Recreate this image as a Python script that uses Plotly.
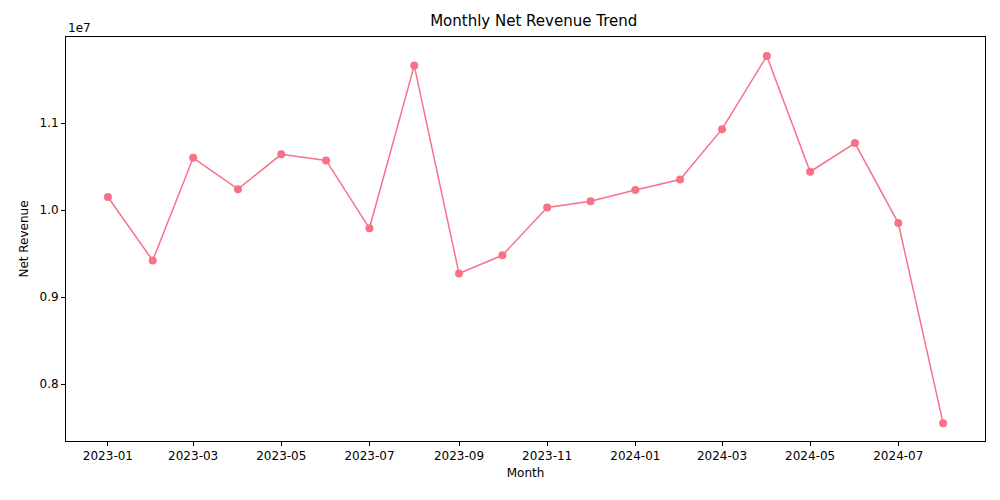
import plotly.graph_objects as go

months = ["2023-01-01", "2023-02-01", "2023-03-01", "2023-04-01", "2023-05-01",
          "2023-06-01", "2023-07-01", "2023-08-01", "2023-09-01", "2023-10-01",
          "2023-11-01", "2023-12-01", "2024-01-01", "2024-02-01", "2024-03-01",
          "2024-04-01", "2024-05-01", "2024-06-01", "2024-07-01", "2024-08-01"]
net_revenue = [10.15e6, 9.42e6, 10.60e6, 10.24e6, 10.64e6, 10.57e6, 9.79e6, 11.66e6,
               9.27e6, 9.48e6, 10.03e6, 10.10e6, 10.23e6, 10.35e6, 10.93e6, 11.77e6,
               10.44e6, 10.77e6, 9.85e6, 7.55e6]
x_ticks = ["2023-01-01", "2023-03-01", "2023-05-01", "2023-07-01", "2023-09-01",
           "2023-11-01", "2024-01-01", "2024-03-01", "2024-05-01", "2024-07-01"]
x_labels = [t[:7] for t in x_ticks]
y_ticks = [0.8e7, 0.9e7, 1.0e7, 1.1e7]
y_labels = ["0.8", "0.9", "1.0", "1.1"]

color = "#f77189"
fig = go.Figure(go.Scatter(x=months, y=net_revenue, mode="lines+markers",
                           line=dict(color=color, width=1.5),
                           marker=dict(color=color, size=8)))

axis_common = dict(showline=True, mirror=True, linecolor="black", linewidth=1,
                   ticks="outside", ticklen=4, tickcolor="black", showgrid=False,
                   zeroline=False, tickfont=dict(size=12, color="black"))
fig.update_xaxes(range=["2022-12-03", "2024-08-30"], tickvals=x_ticks, ticktext=x_labels,
                 title=dict(text="Month", font=dict(size=12, color="black"), standoff=6),
                 **axis_common)
fig.update_yaxes(range=[0.7345e7, 1.1989e7], tickvals=y_ticks, ticktext=y_labels,
                 title=dict(text="Net Revenue", font=dict(size=12, color="black"), standoff=8),
                 **axis_common)
fig.add_annotation(text="1e7", xref="paper", yref="paper", x=0, y=1, xanchor="left",
                   yanchor="bottom", showarrow=False, font=dict(size=12, color="black"))
fig.update_layout(
    width=1000, height=500, plot_bgcolor="white", paper_bgcolor="white",
    font=dict(family="DejaVu Sans", color="black"),
    title=dict(text="Monthly Net Revenue Trend", x=0.5257, y=0.985, yanchor="top",
               xanchor="center", font=dict(size=15, color="black")),
    margin=dict(l=58, r=23, t=29, b=67), showlegend=False,
)
fig.write_html("out.html")
